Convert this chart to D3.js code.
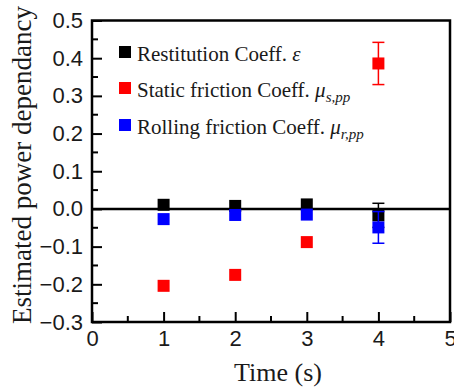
<!DOCTYPE html>
<html>
<head>
<meta charset="utf-8">
<script src="https://cdn.jsdelivr.net/npm/d3@7"></script>
<style>
  html, body { margin: 0; padding: 0; background: #fff; }
  svg { display: block; }
</style>
</head>
<body>
<svg id="chart" width="454" height="387"></svg>
<script>
// Time steps (s)
const times = [1, 2, 3, 4];

// Estimated power dependency of each coefficient
const restitution = [0.011, 0.008, 0.012, -0.017];
const restitutionErr = [0, 0, 0, 0.032];
const staticFriction = [-0.204, -0.175, -0.088, 0.386];
const staticFrictionErr = [0, 0, 0, 0.056];
const rollingFriction = [-0.027, -0.016, -0.015, -0.049];
const rollingFrictionErr = [0, 0, 0, 0.042];

const xTicks = [0, 1, 2, 3, 4, 5];
const yTicks = [-0.3, -0.2, -0.1, 0.0, 0.1, 0.2, 0.3, 0.4, 0.5];

const series = [
  { name: "Restitution", color: "#000000", values: restitution, errs: restitutionErr },
  { name: "Static", color: "#ff0000", values: staticFriction, errs: staticFrictionErr },
  { name: "Rolling", color: "#0000ff", values: rollingFriction, errs: rollingFrictionErr }
];

const svg = d3.select("#chart");
const margin = { left: 92, top: 20.5, right: 4, bottom: 65 };
const W = 454, H = 387;
const x = d3.scaleLinear().domain([0, 5]).range([margin.left, W - margin.right]);
const y = d3.scaleLinear().domain([-0.3, 0.5]).range([H - margin.bottom, margin.top]);

const sans = "'Liberation Sans', Arial, sans-serif";
const serif = "'Liberation Serif', 'Times New Roman', serif";
const ink = "#1a1a1a";

// Left axis: inward ticks, major every 0.1, minor in between
const yMinor = d3.range(-0.25, 0.5, 0.1);
const yAxis = d3.axisLeft(y).tickValues(yTicks).tickFormat(d3.format(".1f")).tickSize(-10).tickPadding(9);
const gy = svg.append("g").attr("transform", `translate(${margin.left},0)`).call(yAxis);
gy.selectAll(".tick line").attr("stroke-width", 2);
gy.selectAll(".tick text").attr("font-family", sans).attr("font-size", 22).attr("fill", ink);
gy.select(".domain").remove();
svg.append("g").selectAll("line").data(yMinor).join("line")
  .attr("x1", margin.left).attr("x2", margin.left + 6)
  .attr("y1", d => y(d)).attr("y2", d => y(d))
  .attr("stroke", "#000").attr("stroke-width", 2);

// Bottom axis
const xMinor = d3.range(0.5, 5, 1);
const xAxis = d3.axisBottom(x).tickValues(xTicks).tickFormat(d3.format("d")).tickSize(-10).tickPadding(8);
const gx = svg.append("g").attr("transform", `translate(0,${H - margin.bottom})`).call(xAxis);
gx.selectAll(".tick line").attr("stroke-width", 2);
gx.selectAll(".tick text").attr("font-family", sans).attr("font-size", 22).attr("fill", ink);
gx.select(".domain").remove();
svg.append("g").selectAll("line").data(xMinor).join("line")
  .attr("x1", d => x(d)).attr("x2", d => x(d))
  .attr("y1", H - margin.bottom).attr("y2", H - margin.bottom - 6)
  .attr("stroke", "#000").attr("stroke-width", 2);

// Frame
svg.append("rect")
  .attr("x", x(0)).attr("y", y(0.5))
  .attr("width", x(5) - x(0)).attr("height", y(-0.3) - y(0.5))
  .attr("fill", "none").attr("stroke", "#000").attr("stroke-width", 2.5);

// Zero line
svg.append("line")
  .attr("x1", x(0)).attr("x2", x(5)).attr("y1", y(0)).attr("y2", y(0))
  .attr("stroke", "#000").attr("stroke-width", 2.5);

// Error bars and square markers
const ms = 12, cap = 6;
series.forEach(s => {
  const g = svg.append("g");
  const pts = times.map((t, i) => ({ t, v: s.values[i], e: s.errs[i] }));
  const eb = g.selectAll("g.err").data(pts.filter(p => p.e > 0)).join("g");
  eb.append("line")
    .attr("x1", d => x(d.t)).attr("x2", d => x(d.t))
    .attr("y1", d => y(d.v - d.e)).attr("y2", d => y(d.v + d.e))
    .attr("stroke", s.color).attr("stroke-width", 1.5);
  [-1, 1].forEach(sign => {
    eb.append("line")
      .attr("x1", d => x(d.t) - cap).attr("x2", d => x(d.t) + cap)
      .attr("y1", d => y(d.v + sign * d.e)).attr("y2", d => y(d.v + sign * d.e))
      .attr("stroke", s.color).attr("stroke-width", 1.5);
  });
  g.selectAll("rect").data(pts).join("rect")
    .attr("x", d => x(d.t) - ms / 2).attr("y", d => y(d.v) - ms / 2)
    .attr("width", ms).attr("height", ms)
    .attr("fill", s.color);
});

// Legend
const legend = svg.append("g");
const legRows = [52, 88, 125];
legRows.forEach((ly, i) => {
  legend.append("rect").attr("x", 119).attr("y", ly - 6).attr("width", 12).attr("height", 12)
    .attr("fill", series[i].color);
});
const legText = (row) => legend.append("text").attr("x", 137).attr("y", legRows[row] + 9)
  .attr("font-family", serif).attr("font-size", 21).attr("fill", ink);

const lt0 = legText(0);
lt0.append("tspan").text("Restitution Coeff. ");
lt0.append("tspan").attr("font-style", "italic").text("ε");

const lt1 = legText(1);
lt1.append("tspan").text("Static friction Coeff. ");
lt1.append("tspan").attr("font-style", "italic").text("μ");
lt1.append("tspan").attr("font-style", "italic").attr("font-size", 15).attr("dy", 5).text("s,pp");

const lt2 = legText(2);
lt2.append("tspan").text("Rolling friction Coeff. ");
lt2.append("tspan").attr("font-style", "italic").text("μ");
lt2.append("tspan").attr("font-style", "italic").attr("font-size", 15).attr("dy", 5).text("r,pp");

// Axis titles
svg.append("text")
  .attr("x", 278).attr("y", 381)
  .attr("text-anchor", "middle")
  .attr("font-family", serif).attr("font-size", 26).attr("fill", ink)
  .text("Time (s)");

svg.append("text")
  .attr("transform", `translate(31,165) rotate(-90)`)
  .attr("text-anchor", "middle")
  .attr("font-family", serif).attr("font-size", 27).attr("fill", ink)
  .text("Estimated power dependancy");
</script>
</body>
</html>
